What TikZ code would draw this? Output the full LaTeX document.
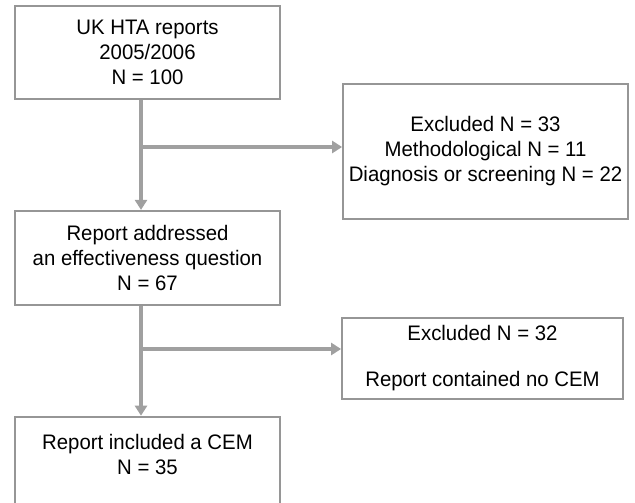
\documentclass[tikz,border=0pt]{standalone}
\usepackage{fontspec}
\setmainfont[FakeStretch=0.97]{Liberation Sans}
\usetikzlibrary{arrows.meta,positioning}

\definecolor{flowgray}{RGB}{160,160,160}
\definecolor{boxgray}{RGB}{150,150,150}

\begin{document}
\begin{tikzpicture}[
  x=1pt,y=-1pt,
  font=\fontsize{21}{25}\selectfont,
  box/.style   ={draw=boxgray,line width=1.8pt,rectangle,align=center,
                 minimum width=265pt,inner sep=0pt},
  exbox/.style ={box,minimum width=285pt},
  flow/.style  ={flowgray,line width=3.5pt},
  arrow/.style ={flow,-{Triangle[length=10pt,width=12pt]}},
]
\useasboundingbox (0,0) rectangle (635,503);

%% ===== Main column ===========================================================
\node[box,minimum height=93pt] (hta) at (147.5,52.5)
      {UK HTA reports\\2005/2006\\N = 100};
\node[box,minimum height=94pt,below=110pt of hta] (eff)
      {Report addressed\\an effectiveness question\\N = 67};
\node[box,minimum height=100pt,below=110pt of eff] (cem)
      {Report included a CEM\\N = 35\\~};

%% ===== Exclusion boxes =======================================================
\node[exbox,minimum height=135pt] (ex1) at (485.5,151.5)
      {Excluded N = 33\\Methodological N = 11\\Diagnosis or screening N = 22};
\node[exbox,minimum width=281pt,minimum height=81pt] (ex2) at (482.5,358.5)
      {Excluded N = 32\\[21pt]Report contained no CEM};

%% ===== Connectors ============================================================
\coordinate (trunk) at (141,0);
\coordinate (j1) at (141,147);
\coordinate (j2) at (141,349);

\draw[arrow] (hta.south -| trunk) -- (eff.north -| trunk);
\draw[arrow] (eff.south -| trunk) -- (cem.north -| trunk);
\draw[arrow] (j1) -- (j1 -| ex1.west);
\draw[arrow] (j2) -- (j2 -| ex2.west);

\end{tikzpicture}
\end{document}
